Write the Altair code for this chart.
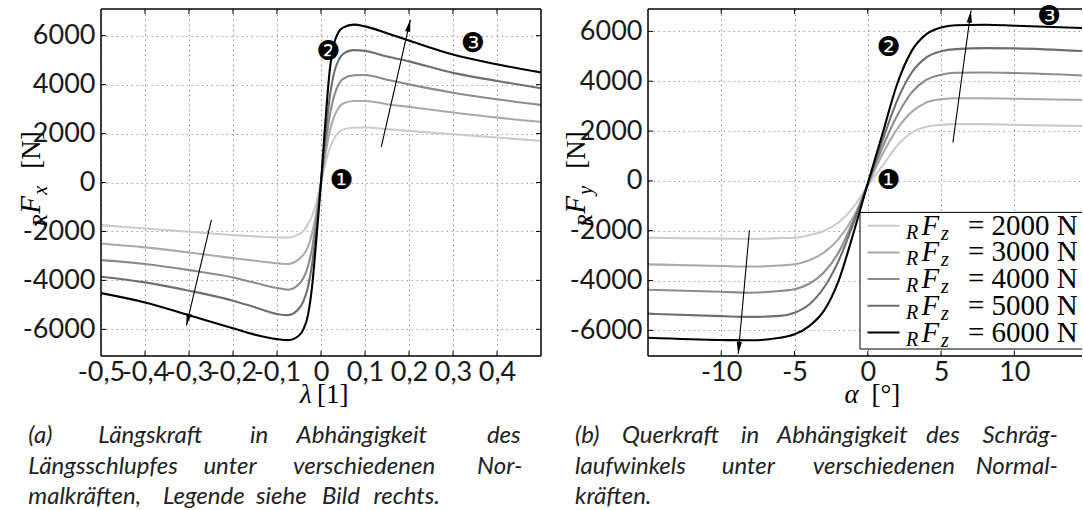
import math
import altair as alt
import pandas as pd

# ---------------- data ----------------
FZ_LABELS = ["2000", "3000", "4000", "5000", "6000"]
LINE_COLORS = ["#cccccc", "#aaaaaa", "#8c8c8c", "#6e6e6e", "#000000"]

LAMBDA = [-0.5, -0.4, -0.3, -0.2, -0.15, -0.1, -0.075, -0.05, -0.04, -0.03, -0.02, -0.01, 0.0,
          0.01, 0.02, 0.03, 0.04, 0.05, 0.075, 0.1, 0.15, 0.2, 0.3, 0.4, 0.5]
FX_2000 = [-1740, -1880, -2010, -2150, -2200, -2245, -2245, -2110, -1980, -1720, -1350, -780, 0,
           780, 1400, 1800, 2050, 2170, 2240, 2245, 2180, 2110, 1970, 1840, 1700]
FX_3000 = [-2490, -2650, -2860, -3090, -3200, -3300, -3330, -3130, -2950, -2650, -2050, -1150, 0,
           1150, 2100, 2700, 3050, 3230, 3330, 3330, 3200, 3090, 2860, 2650, 2480]
FX_4000 = [-3170, -3330, -3580, -3880, -4100, -4310, -4380, -4150, -3900, -3450, -2650, -1450, 0,
           1500, 2750, 3550, 4000, 4230, 4380, 4390, 4200, 4010, 3670, 3400, 3170]
FX_5000 = [-3850, -4080, -4420, -4830, -5100, -5370, -5420, -5150, -4850, -4300, -3300, -1800, 0,
           1900, 3500, 4500, 5000, 5250, 5410, 5380, 5150, 4950, 4480, 4150, 3850]
FX_6000 = [-4520, -4900, -5420, -5960, -6220, -6400, -6440, -6250, -6000, -5450, -4200, -2200, 0,
           2500, 4600, 5700, 6150, 6330, 6450, 6380, 6100, 5800, 5230, 4830, 4500]

ALPHA = [-15, -10, -8, -6, -5, -4, -3, -2, -1, 0, 1, 2, 3, 4, 5, 6, 8, 10, 15]
FY_2000 = [-2280, -2320, -2330, -2300, -2280, -2180, -2010, -1670, -1070, -200, 600, 1410, 1940,
           2170, 2250, 2280, 2280, 2250, 2200]
FY_3000 = [-3350, -3420, -3440, -3400, -3350, -3190, -2880, -2340, -1470, -180, 1070, 2080, 2770,
           3150, 3280, 3320, 3320, 3300, 3240]
FY_4000 = [-4370, -4450, -4490, -4420, -4350, -4130, -3680, -2880, -1610, -130, 1340, 2610, 3550,
           4060, 4260, 4340, 4350, 4330, 4220]
FY_5000 = [-5330, -5430, -5460, -5420, -5290, -4960, -4290, -3220, -1740, -110, 1610, 3220, 4350,
           4960, 5200, 5290, 5330, 5320, 5200]
FY_6000 = [-6300, -6390, -6400, -6300, -6160, -5830, -5220, -4020, -2140, -100, 1880, 3880, 5220,
           5890, 6160, 6250, 6270, 6230, 6130]

LAM_TICKS = [-0.5, -0.4, -0.3, -0.2, -0.1, 0.0, 0.1, 0.2, 0.3, 0.4]
ALPHA_TICKS = [-10, -5, 0, 5, 10]
F_TICKS = [-6000, -4000, -2000, 0, 2000, 4000, 6000]

MARK_TEXT = ["❶", "❷", "❸"]
LEFT_MARK_LAM = [0.047, 0.017, 0.345]
LEFT_MARK_F = [70, 5345, 5670]
RIGHT_MARK_ALPHA = [1.42, 1.42, 12.37]
RIGHT_MARK_F = [0, 5320, 6566]

LEFT_ARROW_X1 = [0.137, -0.249]
LEFT_ARROW_Y1 = [1455, -1523]
LEFT_ARROW_X2 = [0.203, -0.306]
LEFT_ARROW_Y2 = [6650, -5848]
RIGHT_ARROW_X1 = [5.81, -8.08]
RIGHT_ARROW_Y1 = [1541, -1983]
RIGHT_ARROW_X2 = [7.04, -8.84]
RIGHT_ARROW_Y2 = [6834, -6941]

CAP_A = [["(a)", "Längskraft", "in", "Abhängigkeit", "des"],
         ["Längsschlupfes", "unter", "verschiedenen", "Nor-"],
         ["malkräften,", "Legende", "siehe", "Bild", "rechts."]]
CAP_B = [["(b)", "Querkraft", "in", "Abhängigkeit", "des", "Schräg-"],
         ["laufwinkels", "unter", "verschiedenen", "Normal-"],
         ["kräften."]]

# ---------------- layout / style ----------------
SANS = "Liberation Sans Narrow, Lato"
SERIF = "Liberation Serif"
CAPF = "Lato"
CAPFS = 24
TICKFS = 27

L_ORIGIN = (101, 8.3)
L_W, L_H = 440, 347
R_W, R_H = 434, 347
SPACING = 107
L_XDOM = [-0.5, 0.5]
L_YDOM = [-7090, 7090]
R_XDOM = [-15, 14.62]
R_YDOM = [-7030, 6900]
COLOR_SCALE = alt.Scale(domain=FZ_LABELS, range=LINE_COLORS)
HEAD = "M0,0L0.22,1L-0.22,1Z"


def head_angle(x1, y1, x2, y2, xd, yd, W, H):
    dxp = (x2 - x1) / (xd[1] - xd[0]) * W
    dyp = -(y2 - y1) / (yd[1] - yd[0]) * H
    return math.degrees(math.atan2(dxp, -dyp)) % 360


def ptext(rows, **mk):
    df = pd.DataFrame(rows, columns=["px", "py", "t", "ang"])
    opts = dict(baseline="alphabetic", align="left")
    opts.update(mk)
    return alt.Chart(df).mark_text(**opts).encode(
        x=alt.X("px:Q", scale=None, axis=None),
        y=alt.Y("py:Q", scale=None, axis=None),
        text=alt.Text("t:N"),
        angle=alt.Angle("ang:Q", scale=None),
    )


def prule(x1, y1, x2, y2, **mk):
    return alt.Chart(pd.DataFrame({"a": [0]})).mark_rule(**mk).encode(
        x=alt.value(x1), x2=alt.value(x2), y=alt.value(y1), y2=alt.value(y2))


def panel(xvals, series, xd, yd, W, H, xticks, xexpr, marks_x, marks_y,
          ax1, ay1, ax2, ay2, sub, xsym, xunit, cap, right_panel, ybx):
    xsc = alt.Scale(domain=xd, nice=False, zero=False)
    ysc = alt.Scale(domain=yd, nice=False, zero=False)
    xax = alt.Axis(values=xticks, grid=True, gridDash=[1.5, 3.5], gridColor="#909090",
                   gridWidth=1, ticks=False, domain=False, labelFont=SANS,
                   labelFontSize=TICKFS, labelColor="#1a1a1a", labelPadding=3,
                   labelOverlap=False, labelFlush=False, labelExpr=xexpr, title=None)
    yax = alt.Axis(values=F_TICKS, grid=True, gridDash=[1.5, 3.5], gridColor="#a0a0a0",
                   gridWidth=1, ticks=False, domain=False, labelFont=SANS,
                   labelFontSize=TICKFS, labelColor="#1a1a1a", labelPadding=6,
                   labelOverlap=False, labelFlush=False,
                   labelExpr="(datum.value < 0 ? '-' : '') + format(abs(datum.value), 'd')",
                   title=None)

    rows = []
    for lab, vals in zip(FZ_LABELS, series):
        for xv, fv in zip(xvals, vals):
            rows.append({"x": xv, "F": fv, "Fz": lab})
    lines = alt.Chart(pd.DataFrame(rows)).mark_line(
        interpolate="monotone", strokeWidth=2.1, clip=True).encode(
        x=alt.X("x:Q", scale=xsc, axis=xax),
        y=alt.Y("F:Q", scale=ysc, axis=yax),
        color=alt.Color("Fz:N", scale=COLOR_SCALE, legend=None),
    )

    layers = [lines]

    # inward ticks
    tx = pd.DataFrame({"v": [v for v in xticks if xd[0] < v < xd[1]]})
    ty = pd.DataFrame({"v": F_TICKS})
    for y1, y2 in [(0, 5), (H - 5, H)]:
        layers.append(alt.Chart(tx).mark_rule(color="black", strokeWidth=1).encode(
            x=alt.X("v:Q", scale=xsc, axis=xax), y=alt.value(y1), y2=alt.value(y2)))
    xpairs = [(0, 5)] if right_panel else [(0, 5), (W - 5, W)]
    for x1, x2 in xpairs:
        layers.append(alt.Chart(ty).mark_rule(color="black", strokeWidth=1).encode(
            y=alt.Y("v:Q", scale=ysc, axis=yax), x=alt.value(x1), x2=alt.value(x2)))

    # legend (right panel only)
    if right_panel:
        bx0, by0, by1 = 212, 203.4, 340
        layers.append(alt.Chart(pd.DataFrame({"a": [0]})).mark_rect(
            fill="white", stroke=None).encode(
            x=alt.value(bx0), x2=alt.value(W), y=alt.value(by0), y2=alt.value(by1)))
        layers.append(prule(bx0, by0, W, by0, color="black", strokeWidth=1))
        layers.append(prule(bx0, by1, W, by1, color="black", strokeWidth=1))
        layers.append(prule(bx0, by0, bx0, by1, color="black", strokeWidth=1))
        row0, step = 216.7, 26.7
        ry = [row0 + k * step for k in range(len(FZ_LABELS))]
        ldf = pd.DataFrame({"ry": ry, "Fz": FZ_LABELS})
        layers.append(alt.Chart(ldf).mark_rule(strokeWidth=2).encode(
            x=alt.value(219.5), x2=alt.value(251.5),
            y=alt.Y("ry:Q", scale=None, axis=None),
            color=alt.Color("Fz:N", scale=COLOR_SCALE, legend=None)))
        layers.append(ptext([[258, r + 13, "R", 0] for r in ry],
                            font=SERIF, fontSize=20, fontStyle="italic", color="black"))
        layers.append(ptext([[273.5, r + 9, "F", 0] for r in ry],
                            font=SERIF, fontSize=29, fontStyle="italic", color="black"))
        layers.append(ptext([[293, r + 14, "z", 0] for r in ry],
                            font=SERIF, fontSize=20, fontStyle="italic", color="black"))
        layers.append(ptext([[320, r + 9, "= " + lab + " N", 0] for r, lab in zip(ry, FZ_LABELS)],
                            font=SERIF, fontSize=29, color="black"))

    # arrows
    adf = pd.DataFrame({"x1": ax1, "y1": ay1, "x2": ax2, "y2": ay2})
    adf["ang"] = [head_angle(a, b, c, d, xd, yd, W, H) for a, b, c, d in zip(ax1, ay1, ax2, ay2)]
    layers.append(alt.Chart(adf).mark_rule(color="black", strokeWidth=1.1).encode(
        x=alt.X("x1:Q", scale=xsc, axis=xax), y=alt.Y("y1:Q", scale=ysc, axis=yax),
        x2="x2:Q", y2="y2:Q"))
    layers.append(alt.Chart(adf).mark_point(shape=HEAD, filled=True, size=576, color="black",
                                            opacity=1).encode(
        x=alt.X("x2:Q", scale=xsc, axis=xax), y=alt.Y("y2:Q", scale=ysc, axis=yax),
        angle=alt.Angle("ang:Q", scale=None)))

    # numbered markers
    mdf = pd.DataFrame({"x": marks_x, "y": marks_y, "t": MARK_TEXT})
    layers.append(alt.Chart(mdf).mark_text(font="DejaVu Sans", fontSize=27, color="black",
                                           baseline="middle", align="center").encode(
        x=alt.X("x:Q", scale=xsc, axis=xax), y=alt.Y("y:Q", scale=ysc, axis=yax), text="t:N"))

    # axis titles (LaTeX-like, built from pieces)
    layers.append(ptext([[ybx + 7, 217.7, "R", 270], [ybx + 7, 185.7, sub, 270]],
                        font=SERIF, fontSize=20, fontStyle="italic", color="black"))
    layers.append(ptext([[ybx, 204.7, "F", 270]],
                        font=SERIF, fontSize=29, fontStyle="italic", color="black"))
    layers.append(ptext([[ybx, 159.7, "[N]", 270]], font=SERIF, fontSize=27, color="black"))
    layers.append(ptext([[xsym[1], 394, xsym[0], 0]],
                        font=SERIF, fontSize=27, fontStyle="italic", color="black"))
    layers.append(ptext([[xunit[1], 394, xunit[0], 0]], font=SERIF, fontSize=27, color="black"))

    # caption (justified lines: words placed where they sit in the picture)
    base_y = [433.7, 464.7, 495.2]
    left_rows, right_rows = [], []
    for (words, xs, last_right), by in zip(cap, base_y):
        n = len(xs)
        for w, xp in zip(words[:n], xs):
            left_rows.append([xp, by, w, 0])
        if last_right is not None:
            right_rows.append([last_right, by, words[-1], 0])
    layers.append(ptext(left_rows, font=CAPF, fontSize=CAPFS, fontStyle="italic",
                        color="#222222"))
    if right_rows:
        layers.append(ptext(right_rows, font=CAPF, fontSize=CAPFS, fontStyle="italic",
                            color="#222222", align="right"))

    # frame
    fw = 1.5
    layers.append(prule(0, 0, W, 0, color="black", strokeWidth=fw))
    layers.append(prule(0, H, W, H, color="black", strokeWidth=fw))
    layers.append(prule(0, 0, 0, H, color="black", strokeWidth=fw))
    if not right_panel:
        layers.append(prule(W, 0, W, H, color="black", strokeWidth=fw))
        # invisible anchor fixing the page offset of the whole figure
        layers.append(prule(-L_ORIGIN[0], -L_ORIGIN[1], -L_ORIGIN[0], -L_ORIGIN[1],
                            color="white", strokeOpacity=0, strokeWidth=0.1))

    return alt.layer(*layers).properties(width=W, height=H)


lam_expr = ("datum.value == 0 ? '0' : (datum.value < 0 ? '-' : '') + "
            "replace(format(abs(datum.value), '.1f'), '.', ',')")
alpha_expr = "(datum.value < 0 ? '-' : '') + format(abs(datum.value), 'd')"

cap_a = [
    (CAP_A[0], [-72.7, -2.7, 149, 195.6], 419.7),
    (CAP_A[1], [-72.7, 102.4, 192], 421.4),
    (CAP_A[2], [-72.7, 62, 155, 221], 339),
]
cap_b = [
    (CAP_B[0], [-73, -26, 93, 129, 278], 410),
    (CAP_B[1], [-73, 73.8, 164.7], 410),
    (CAP_B[2], [-73], None),
]

left = panel(LAMBDA, [FX_2000, FX_3000, FX_4000, FX_5000, FX_6000], L_XDOM, L_YDOM, L_W, L_H,
             LAM_TICKS, lam_expr, LEFT_MARK_LAM, LEFT_MARK_F,
             LEFT_ARROW_X1, LEFT_ARROW_Y1, LEFT_ARROW_X2, LEFT_ARROW_Y2,
             "x", ("λ", 199), ("[1]", 216), cap_a, False, -61)
right = panel(ALPHA, [FY_2000, FY_3000, FY_4000, FY_5000, FY_6000], R_XDOM, R_YDOM, R_W, R_H,
              ALPHA_TICKS, alpha_expr, RIGHT_MARK_ALPHA, RIGHT_MARK_F,
              RIGHT_ARROW_X1, RIGHT_ARROW_Y1, RIGHT_ARROW_X2, RIGHT_ARROW_Y2,
              "y", ("α", 196.5), ("[°]", 223.5), cap_b, True, -63)

chart = alt.hconcat(left, right, spacing=SPACING, bounds="flush").properties(
    padding={"left": 0, "top": 0, "right": 0, "bottom": 0}, background="white"
).configure_view(stroke=None)

chart.save("out.html", embed_options={"renderer": "svg", "actions": False})
